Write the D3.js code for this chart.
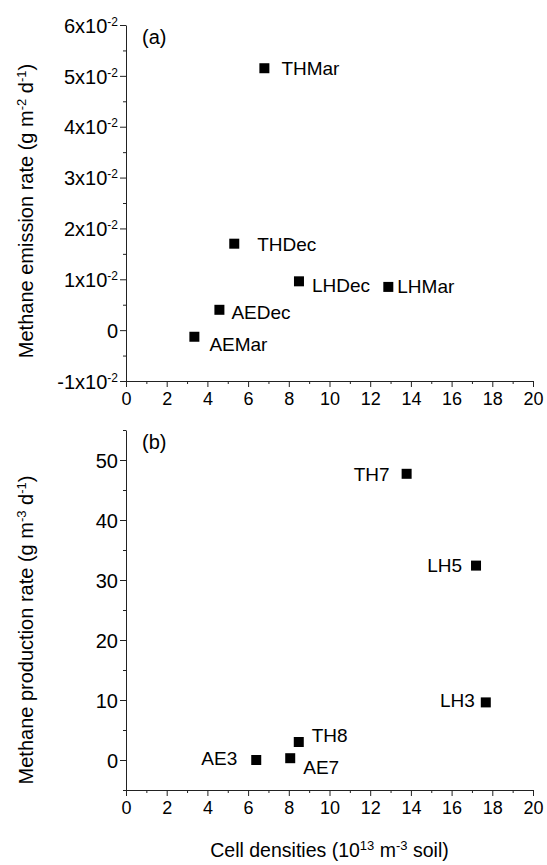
<!DOCTYPE html>
<html>
<head>
<meta charset="utf-8">
<script src="https://cdn.jsdelivr.net/npm/d3@7/dist/d3.min.js"></script>
<style>
  body { margin: 0; background: #fff; }
  svg { font-family: Arial, "Liberation Sans", sans-serif; }
  .domain, .tick line { stroke: #222; }
</style>
</head>
<body>
<div id="chart"></div>
<script>
// panel (a): methane emission rate vs cell density
var emissionNames = ["THMar", "THDec", "LHDec", "LHMar", "AEDec", "AEMar"];
var emissionDensity = [6.8, 5.32, 8.5, 12.89, 4.59, 3.36];
var emissionRate = [0.0515, 0.017, 0.0096, 0.0085, 0.004, -0.0013];

// panel (b): methane production rate vs cell density
var productionNames = ["TH7", "LH5", "LH3", "TH8", "AE3", "AE7"];
var productionDensity = [13.79, 17.2, 17.68, 8.49, 6.4, 8.07];
var productionRate = [47.7, 32.4, 9.6, 3.0, 0.0, 0.3];

var xTicks = [0, 2, 4, 6, 8, 10, 12, 14, 16, 18, 20];
var emissionTicks = [-0.01, 0, 0.01, 0.02, 0.03, 0.04, 0.05, 0.06];
var productionTicks = [0, 10, 20, 30, 40, 50];

// where each point label sits relative to its marker [dx, dy, anchor]
var emissionLabelPlace = [
  [17, 7, "start"], [23, 7, "start"], [13, 11, "start"],
  [9, 6, "start"], [12, 9, "start"], [15, 14, "start"]
];
var productionLabelPlace = [
  [-17, 7, "end"], [-14, 6, "end"], [-11, 5, "end"],
  [13, 0, "start"], [-19, 5, "end"], [13, 16, "start"]
];

var width = 547,
  height = 865;

var svg = d3
  .select("#chart")
  .append("svg")
  .attr("width", width)
  .attr("height", height);

var x = d3.scaleLinear().domain([0, 20]).range([126, 533]);
var yTop = d3.scaleLinear().domain([-0.01, 0.06]).range([381, 25]);
var yBot = d3.scaleLinear().domain([-5, 55]).range([790, 430]);

function range(a, b, step) {
  var out = [];
  for (var v = a; v <= b + step / 10; v += step) out.push(+v.toFixed(4));
  return out;
}

// text with raised superscripts; parts are plain strings or {sup: "..."}
function supText(parts, supSize) {
  return function(t) {
    var raised = false;
    parts.forEach(function(p) {
      if (typeof p === "string") {
        t.append("tspan").attr("dy", raised ? "7px" : null).text(p);
        raised = false;
      } else {
        t.append("tspan")
          .attr("dy", raised ? null : "-7px")
          .attr("font-size", supSize + "px")
          .text(p.sup);
        raised = true;
      }
    });
  };
}

function drawPanel(y, yTicks, yMinor, yLabel, titleCenter, names, xs, ys, place, tag, tagY, yFormat) {
  var x0 = x.range()[0],
    yAxisBase = y.range()[0];

  // minor ticks
  svg
    .append("g")
    .attr("transform", "translate(0," + yAxisBase + ")")
    .call(d3.axisBottom(x).tickValues(range(1, 19, 2)).tickSize(3).tickFormat(""))
    .call(function(g) { g.select(".domain").remove(); });
  svg
    .append("g")
    .attr("transform", "translate(" + x0 + ",0)")
    .call(d3.axisLeft(y).tickValues(yMinor).tickSize(3).tickFormat(""))
    .call(function(g) { g.select(".domain").remove(); });

  // major x axis
  svg
    .append("g")
    .attr("transform", "translate(0," + yAxisBase + ")")
    .call(d3.axisBottom(x).tickValues(xTicks).tickSize(6).tickSizeOuter(0).tickPadding(5))
    .call(function(g) {
      g.selectAll("text").attr("font-size", "18px").attr("fill", "#000");
    });

  // major y axis with custom labels
  var gy = svg
    .append("g")
    .attr("transform", "translate(" + x0 + ",0)")
    .call(d3.axisLeft(y).tickValues(yTicks).tickSize(6).tickSizeOuter(0).tickFormat(""));
  gy.selectAll(".tick").each(function(d) {
    var t = d3
      .select(this)
      .append("text")
      .attr("x", -8)
      .attr("dy", "0.36em")
      .attr("text-anchor", "end")
      .attr("font-size", "20px")
      .attr("fill", "#000");
    yFormat(t, d);
  });

  svg
    .append("text")
    .attr("transform", "translate(33," + titleCenter + ") rotate(-90)")
    .attr("text-anchor", "middle")
    .attr("font-size", "20px")
    .call(yLabel);

  svg
    .append("text")
    .attr("x", 142)
    .attr("y", tagY)
    .attr("font-size", "20px")
    .text(tag);

  var pts = names.map(function(n, i) {
    return { name: n, x: xs[i], y: ys[i], place: place[i] };
  });

  svg
    .append("g")
    .selectAll("rect")
    .data(pts)
    .enter()
    .append("rect")
    .attr("x", function(d) { return x(d.x) - 5; })
    .attr("y", function(d) { return y(d.y) - 5; })
    .attr("width", 10)
    .attr("height", 10)
    .attr("fill", "#000");

  svg
    .append("g")
    .selectAll("text")
    .data(pts)
    .enter()
    .append("text")
    .attr("x", function(d) { return x(d.x) + d.place[0]; })
    .attr("y", function(d) { return y(d.y) + d.place[1]; })
    .attr("text-anchor", function(d) { return d.place[2]; })
    .attr("font-size", "19px")
    .text(function(d) { return d.name; });
}

function sciFormat(t, d) {
  if (d === 0) {
    t.text("0");
    return;
  }
  var m = Math.round(d * 100);
  t.append("tspan").text(m + "x10");
  t.append("tspan").attr("dy", "-7px").attr("font-size", "12px").text("-2");
}

function plainFormat(t, d) {
  t.text(d);
}

drawPanel(
  yTop,
  emissionTicks,
  range(-0.005, 0.055, 0.01),
  supText(["Methane emission rate (g m", { sup: "-2" }, " d", { sup: "-1" }, ")"], 13),
  211,
  emissionNames,
  emissionDensity,
  emissionRate,
  emissionLabelPlace,
  "(a)",
  44,
  sciFormat
);

drawPanel(
  yBot,
  productionTicks,
  range(-5, 55, 10),
  supText(["Methane production rate (g m", { sup: "-3" }, " d", { sup: "-1" }, ")"], 13),
  630,
  productionNames,
  productionDensity,
  productionRate,
  productionLabelPlace,
  "(b)",
  449,
  plainFormat
);

svg
  .append("text")
  .attr("x", (x.range()[0] + x.range()[1]) / 2)
  .attr("y", 857)
  .attr("text-anchor", "middle")
  .attr("font-size", "19.5px")
  .call(supText(["Cell densities (10", { sup: "13" }, " m", { sup: "-3" }, " soil)"], 13));
</script>
</body>
</html>
